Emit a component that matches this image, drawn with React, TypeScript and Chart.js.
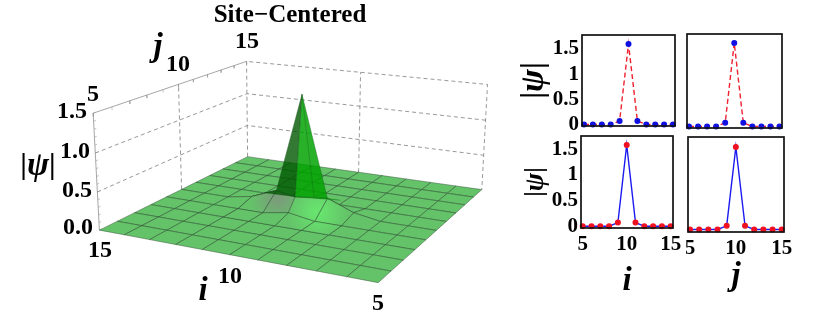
import React, { useEffect, useRef } from "react";
import { Chart, registerables } from "chart.js";
Chart.register(...registerables);

// ---------- data ----------
const sites = [5, 6, 7, 8, 9, 10, 11, 12, 13, 14, 15];
const profileTopI = [0.01, 0.01, 0.01, 0.01, 0.08, 1.6, 0.08, 0.01, 0.01, 0.01, 0.01];
const profileTopJ = [0.01, 0.01, 0.01, 0.01, 0.08, 1.6, 0.08, 0.01, 0.01, 0.01, 0.01];
const profileBotI = [0.01, 0.01, 0.01, 0.01, 0.08, 1.58, 0.08, 0.01, 0.01, 0.01, 0.01];
const profileBotJ = [0.01, 0.01, 0.01, 0.01, 0.08, 1.58, 0.08, 0.01, 0.01, 0.01, 0.01];
const smallYTicks = [0, 0.5, 1, 1.5];
const smallXTicks = [5, 10, 15];

// surface heights which differ from zero: [i, j, |psi|]
const surfaceRaised: number[][] = [
  [11, 10, 0.2], [9, 10, 0.2], [12, 10, 0.06], [8, 10, 0.06], [10, 9, 0.06], [10, 11, 0.06],
];
const peak = [10, 10, 1.55];
const ridgeFront = [10, 9.5, 0.22];
const wingLeft = [11.5, 10, 0.14];
const wingRight = [8.5, 10, 0.2];

const zTickLabels = ["0.0", "0.5", "1.0", "1.5"];
const iTickLabels = ["15", "10", "5"];
const jTickLabels = ["5", "10", "15"];
const titleText = "Site\u2212Centered";

// ---------- camera calibration: [i, j, z, px, py] ----------
const calib: number[][] = [
  [15, 5, 0, 100, 230], [5, 5, 0, 378, 283], [5, 15, 0, 482, 189], [15, 15, 0, 247, 157],
  [15, 5, 1.5, 93, 113], [15, 15, 1.5, 247, 61], [5, 15, 1.5, 487, 85],
  [15, 5, 1, 95, 153], [15, 15, 1, 247, 94], [5, 15, 1, 486, 120],
];

function solve(A: number[][], b: number[]) {
  const n = b.length;
  const M = A.map((r, k) => [...r, b[k]]);
  for (let c = 0; c < n; c++) {
    let p = c;
    for (let r = c + 1; r < n; r++) if (Math.abs(M[r][c]) > Math.abs(M[p][c])) p = r;
    [M[c], M[p]] = [M[p], M[c]];
    for (let r = 0; r < n; r++) {
      if (r === c) continue;
      const f = M[r][c] / M[c][c];
      for (let k = c; k <= n; k++) M[r][k] -= f * M[c][k];
    }
  }
  return M.map((r, k) => r[n] / r[k]);
}
function camera() {
  const rows: number[][] = [];
  const rhs: number[] = [];
  for (const [i, j, z, X, Y] of calib) {
    const u = (i - 10) / 5, v = (j - 10) / 5, w = z;
    const x = X / 300, y = Y / 300;
    rows.push([u, v, w, 1, 0, 0, 0, 0, -x * u, -x * v, -x * w]); rhs.push(x);
    rows.push([0, 0, 0, 0, u, v, w, 1, -y * u, -y * v, -y * w]); rhs.push(y);
  }
  const n = 11;
  const AtA = Array.from({ length: n }, (_, a) =>
    Array.from({ length: n }, (_, b) => rows.reduce((s, r) => s + r[a] * r[b], 0) + (a === b ? 1e-9 : 0)));
  const Atb = Array.from({ length: n }, (_, a) => rows.reduce((s, r, k) => s + r[a] * rhs[k], 0));
  return solve(AtA, Atb);
}
const P = camera();
function proj([i, j, z]: number[]) {
  const u = (i - 10) / 5, v = (j - 10) / 5, w = z;
  const d = P[8] * u + P[9] * v + P[10] * w + 1;
  return {
    x: (300 * (P[0] * u + P[1] * v + P[2] * w + P[3])) / d,
    y: (300 * (P[4] * u + P[5] * v + P[6] * w + P[7])) / d,
  };
}
function heightAt(i: number, j: number) {
  const hit = surfaceRaised.find((p) => p[0] === i && p[1] === j);
  return hit ? hit[2] : 0;
}
const V = (i: number, j: number) => [i, j, heightAt(i, j)];

const FLOOR = "rgba(61,180,67,0.8)";
const MESH = "rgba(45,70,50,0.75)";
const WALL = "rgba(150,150,150,0.95)";
const DASH = "rgba(120,120,120,0.95)";

function polygon(pts: number[][], bg: any, border = MESH, bw = 0.6) {
  return {
    data: [...pts, pts[0]].map(proj), showLine: true, fill: "shape", backgroundColor: bg,
    borderColor: border, borderWidth: bw, pointRadius: 0, tension: 0, clip: false,
  };
}
function path(pts: number[][], color: string, dash: number[] = [], w = 0.8) {
  return {
    data: pts.map(proj), showLine: true, fill: false, borderColor: color, borderWidth: w,
    borderDash: dash, pointRadius: 0, tension: 0, clip: false,
  };
}
const cell = (i: number, j: number) => [V(i, j), V(i + 1, j), V(i + 1, j + 1), V(i, j + 1)];

function buildMain(ctx: CanvasRenderingContext2D) {
  const ds: any[] = [];
  const d = [4, 3];
  // walls
  ds.push(path([[15, 5, 0], [15, 5, 1.5], [15, 15, 1.5]], WALL, [], 0.9));
  ds.push(path([[15, 15, 0], [15, 15, 1.5], [5, 15, 1.5], [5, 15, 0]], DASH, d));
  for (const z of [0.5, 1]) ds.push(path([[15, 5, z], [15, 15, z], [5, 15, z]], DASH, d));
  ds.push(path([[15, 10, 0], [15, 10, 1.5]], DASH, d));
  ds.push(path([[10, 15, 0], [10, 15, 1.5]], DASH, d));
  for (const j of sites) ds.push(path([[15, j, 1.5], [15, j, 1.46]], WALL, [], 0.6));
  for (let k = 0; k <= 15; k++) ds.push(path([[15, 5, k / 10], [15, 5.12, k / 10]], WALL, [], 0.6));

  // surface cells
  const isPeakCell = (i: number, j: number) => (i === 9 || i === 10) && (j === 9 || j === 10);
  for (const i of sites.slice(0, -1).reverse()) {
    for (const j of sites.slice(0, -1).reverse()) {
      if (isPeakCell(i, j)) continue;
      ds.push(polygon(cell(i, j), FLOOR));
    }
  }
  // shaded front faces
  const grey = ctx.createRadialGradient(278, 198, 4, 278, 198, 28);
  grey.addColorStop(0, "rgb(122,158,122)");
  grey.addColorStop(1, "rgb(100,195,105)");
  const lit = ctx.createRadialGradient(318, 212, 3, 318, 212, 30);
  lit.addColorStop(0, "rgb(104,228,110)");
  lit.addColorStop(1, "rgb(100,195,105)");
  ds.push(polygon(cell(11, 9), grey));
  ds.push(polygon(cell(11, 8), grey));
  ds.push(polygon([V(11, 9), V(11, 10), ridgeFront, V(10, 9)], grey));
  ds.push(polygon(cell(8, 9), lit));
  ds.push(polygon(cell(8, 8), lit));
  ds.push(polygon(cell(9, 8), lit));
  ds.push(polygon(cell(10, 8), lit));
  ds.push(polygon([V(10, 9), ridgeFront, V(9, 10), V(9, 9)], lit));

  // peak facets
  const DARK = "rgba(0,88,0,0.8)";
  const BRIGHT = "rgba(0,162,0,0.84)";
  ds.push(polygon([V(11, 10), wingLeft, ridgeFront], DARK, "rgba(20,70,25,0.5)", 0.4));
  ds.push(polygon([V(9, 10), wingRight, ridgeFront], BRIGHT, "rgba(20,90,25,0.5)", 0.4));
  ds.push(polygon([peak, V(11, 10), ridgeFront], DARK, "rgba(20,70,25,0.6)"));
  ds.push(polygon([peak, ridgeFront, V(9, 10)], BRIGHT, "rgba(20,90,25,0.6)"));
  ds.push(path([peak, V(10, 11)], "rgba(20,90,25,0.55)", [], 0.6));
  return ds.reverse();
}

const serif = '"Liberation Serif", serif';

function drawPsi(c: CanvasRenderingContext2D, x: number, y: number, size: number, rotated: boolean) {
  c.save();
  c.translate(x, y);
  if (rotated) c.rotate(-Math.PI / 2);
  c.fillStyle = "#000";
  c.textBaseline = "middle";
  c.textAlign = "left";
  const bar = `bold ${size}px ${serif}`;
  const psi = `italic bold ${size * 1.1}px ${serif}`;
  c.font = psi;
  const w = c.measureText("\u03C8").width;
  c.font = bar;
  const b = c.measureText("|").width;
  const total = w + 2 * b;
  c.fillText("|", -total / 2, 0);
  c.fillText("|", total / 2 - b, 0);
  c.font = psi;
  c.fillText("\u03C8", -total / 2 + b, 0);
  c.restore();
}

const mainText = {
  id: "mainText",
  afterDatasetsDraw(chart: any) {
    const c = chart.ctx as CanvasRenderingContext2D;
    c.save();
    c.fillStyle = "#000";
    c.textAlign = "center";
    c.textBaseline = "middle";
    const put = (t: string, x: number, y: number, font: string) => { c.font = font; c.fillText(t, x, y); };
    const tick = `bold 24px ${serif}`;
    put(titleText, 290, 16, `bold 25px ${serif}`);
    const ix = [[100, 251], [230, 277], [378, 304]];
    iTickLabels.forEach((t, k) => put(t, ix[k][0], ix[k][1], tick));
    const jx = [[93, 95], [178, 65], [247, 42]];
    jTickLabels.forEach((t, k) => put(t, jx[k][0], jx[k][1], tick));
    const zx = [[78, 228], [77, 191], [75, 152], [72, 112]];
    zTickLabels.forEach((t, k) => put(t, zx[k][0], zx[k][1], tick));
    put("i", 203, 291, `italic bold 33px ${serif}`);
    put("j", 158, 47, `italic bold 33px ${serif}`);
    c.restore();
    drawPsi(c, 38, 166, 30, false);
  },
};

const frame = {
  id: "frame",
  afterDraw(chart: any) {
    const { left, top, right, bottom } = chart.chartArea;
    const c = chart.ctx as CanvasRenderingContext2D;
    c.save();
    c.strokeStyle = "#111";
    c.lineWidth = 1.7;
    c.strokeRect(left, top, right - left, bottom - top);
    c.restore();
    const opts = chart.options.plugins.frame;
    if (opts?.psiSize) drawPsi(c, opts.psiX, (top + bottom) / 2, opts.psiSize, true);
  },
};

const noScalePadding = (s: any) => {
  s.paddingTop = 0; s.paddingBottom = 0; s.paddingLeft = 0; s.paddingRight = 0;
  if (s._margins) { s._margins.top = 0; s._margins.bottom = 0; s._margins.left = 0; s._margins.right = 0; }
};

type Panel = {
  l: number; t: number; r: number; b: number;
  x5: number; x15: number; y0: number; yPeak: number; peakVal: number;
  values: number[]; line: string; dot: string; dash: number[];
  axisW: number; axisH: number; xTitle?: string; xTitleSize?: number; psiSize?: number; psiX?: number;
};
const panels: Panel[] = [
  { l: 582, t: 35, r: 675, b: 126, x5: 584, x15: 673, y0: 125, yPeak: 44, peakVal: 1.6, values: profileTopI, line: "#f0202f", dot: "#1010e0", dash: [5, 3], axisW: 66, axisH: 2, psiSize: 31, psiX: 18 },
  { l: 687, t: 34, r: 782, b: 128, x5: 689, x15: 779.5, y0: 127, yPeak: 43, peakVal: 1.6, values: profileTopJ, line: "#f0202f", dot: "#1010e0", dash: [5, 3], axisW: 2, axisH: 2 },
  { l: 581, t: 136, r: 673, b: 228, x5: 582.7, x15: 670.7, y0: 226.7, yPeak: 145, peakVal: 1.58, values: profileBotI, line: "#1a1af0", dot: "#f01020", dash: [], axisW: 59, axisH: 73, xTitle: "i", xTitleSize: 33, psiSize: 25, psiX: 14 },
  { l: 688, t: 137, r: 784, b: 232, x5: 690, x15: 781.7, y0: 230, yPeak: 147, peakVal: 1.58, values: profileBotJ, line: "#1a1af0", dot: "#f01020", dash: [], axisW: 2, axisH: 64, xTitle: "j", xTitleSize: 33 },
];

function buildPanel(canvas: HTMLCanvasElement, p: Panel) {
  const perX = (p.x15 - p.x5) / 10;
  const perY = (p.y0 - p.yPeak) / p.peakVal;
  const w = p.r - p.l + p.axisW + 16;
  const h = p.b - p.t + p.axisH + 8;
  canvas.width = w; canvas.height = h;
  canvas.style.cssText = `position:absolute;left:${p.l - p.axisW}px;top:${p.t - 4}px;width:${w}px;height:${h}px;`;
  const chart = new Chart(canvas, {
    type: "line",
    data: {
      datasets: [{
        data: sites.map((s, k) => ({ x: s, y: p.values[k] })),
        borderColor: p.line, borderWidth: 1.4, borderDash: p.dash,
        pointBackgroundColor: p.dot, pointBorderColor: p.dot, pointRadius: 2.3, tension: 0, clip: false,
      }],
    },
    options: {
      animation: false, responsive: false, events: [],
      layout: { autoPadding: false, padding: { left: 0, top: 4, right: 16, bottom: 4 } },
      plugins: {
        legend: { display: false }, tooltip: { enabled: false },
        frame: { psiSize: p.psiSize, psiX: p.psiX },
      },
      scales: {
        x: {
          type: "linear",
          min: 5 - (p.x5 - p.l) / perX, max: 15 + (p.r - p.x15) / perX,
          grid: { display: false, drawTicks: false }, border: { display: false },
          afterBuildTicks: (s: any) => { s.ticks = smallXTicks.map((v) => ({ value: v })); },
          afterFit: (s: any) => { s.height = p.axisH; noScalePadding(s); },
          ticks: {
            display: p.axisH > 2, color: "#000", maxRotation: 0, padding: 4, autoSkip: false,
            font: { family: "Liberation Serif", weight: "bold", size: 21 },
          },
          title: {
            display: !!p.xTitle, text: p.xTitle ?? "", color: "#000", padding: 0,
            font: { family: "Liberation Serif", weight: "bold", style: "italic", size: p.xTitleSize ?? 20 },
          },
        },
        y: {
          type: "linear",
          min: -(p.b - p.y0) / perY, max: (p.y0 - p.t) / perY,
          grid: { display: false, drawTicks: false }, border: { display: false },
          afterBuildTicks: (s: any) => { s.ticks = smallYTicks.map((v) => ({ value: v })); },
          afterFit: (s: any) => { s.width = p.axisW; noScalePadding(s); },
          ticks: {
            display: p.axisW > 2, color: "#000", padding: 3, autoSkip: false,
            callback: (v: number) => String(v),
            font: { family: "Liberation Serif", weight: "bold", size: 21 },
          },
        },
      },
    } as any,
    plugins: [frame],
  });
  return chart;
}

export default function App() {
  const mainRef = useRef<HTMLCanvasElement>(null);
  const panelRefs = useRef<(HTMLCanvasElement | null)[]>([]);
  useEffect(() => {
    const cv = mainRef.current!;
    const main = new Chart(cv, {
      type: "scatter",
      data: { datasets: buildMain(cv.getContext("2d")!) },
      options: {
        animation: false, responsive: false, events: [],
        layout: { padding: 0 },
        plugins: { legend: { display: false }, tooltip: { enabled: false } },
        scales: {
          x: { type: "linear", min: 0, max: 510, display: false },
          y: { type: "linear", min: 0, max: 326, reverse: true, display: false },
        },
      } as any,
      plugins: [mainText],
    });
    const others = panels.map((p, k) => buildPanel(panelRefs.current[k]!, p));
    return () => { main.destroy(); others.forEach((c) => c.destroy()); };
  }, []);
  return (
    <div style={{ position: "absolute", left: 0, top: 0, width: 830, height: 326, overflow: "hidden", background: "#fff" }}>
      <canvas ref={mainRef} width={510} height={326} style={{ position: "absolute", left: 0, top: 0, width: 510, height: 326 }} />
      {panels.map((_, k) => (
        <canvas key={k} ref={(el) => { panelRefs.current[k] = el; }} />
      ))}
    </div>
  );
}
